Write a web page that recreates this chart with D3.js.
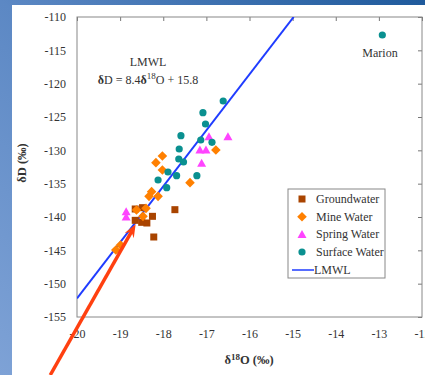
<!DOCTYPE html>
<html><head><meta charset="utf-8">
<script src="https://cdn.jsdelivr.net/npm/d3@7/dist/d3.min.js"></script>
<style>body{margin:0;padding:0;overflow:hidden}svg{display:block}</style>
</head><body>
<script>
// ---- data ----
const groundwater = [[-18.65,-138.8],[-18.48,-138.6],[-18.25,-139.9],[-18.5,-140.8],[-18.38,-140.9],[-18.65,-140.5],[-18.22,-143.0],[-17.73,-138.9]];
const mineWater = [[-16.78,-129.95],[-18.02,-130.85],[-18.17,-131.85],[-18.02,-132.95],[-17.38,-134.85],[-18.27,-136.2],[-18.12,-136.9],[-18.33,-136.9],[-18.62,-138.95],[-18.4,-138.7],[-18.47,-139.9],[-18.99,-144.2],[-19.1,-144.95]];
const springWater = [[-16.94,-127.95],[-16.5,-127.95],[-17.15,-129.95],[-17.01,-129.95],[-17.11,-131.95],[-18.86,-139.2],[-18.86,-140.0]];
const surfaceWater = [[-16.61,-122.6],[-17.08,-124.35],[-17.02,-126.05],[-17.59,-127.8],[-17.13,-128.45],[-16.87,-128.8],[-17.63,-129.8],[-17.64,-131.3],[-17.53,-131.75],[-17.89,-133.25],[-17.69,-133.8],[-17.22,-133.8],[-18.12,-134.45],[-17.92,-135.6],[-12.92,-112.7]];
const lmwl = {slope: 8.4, intercept: 15.8};
const xTicks = [-20,-19,-18,-17,-16,-15,-14,-13,-12];
const yTicks = [-155,-150,-145,-140,-135,-130,-125,-120,-115,-110];
const arrow = [[-20.62,-163.7],[-18.64,-141.1]];
const seriesNames = ["Groundwater","Mine Water","Spring Water","Surface Water","LMWL"];

(function(){
const W=425,H=375;
const svg=d3.select("body").append("svg").attr("width",W).attr("height",H);
const defs=svg.append("defs");
const g1=defs.append("linearGradient").attr("id","bg").attr("x1","0").attr("y1","1").attr("x2","1").attr("y2","0");
g1.append("stop").attr("offset","0").attr("stop-color","#7ea2d6");
g1.append("stop").attr("offset","0.5").attr("stop-color","#5c88c4");
g1.append("stop").attr("offset","1").attr("stop-color","#1f5a9c");
svg.append("rect").attr("width",W).attr("height",H).attr("fill","url(#bg)");
svg.append("rect").attr("x",12).attr("y",5).attr("width",W-12).attr("height",H-5).attr("fill","#fff");

const x=d3.scaleLinear().domain([-20,-12]).range([77,422]);
const y=d3.scaleLinear().domain([-155,-110]).range([317,17]);
const serif="'Liberation Serif','Times New Roman',serif";

defs.append("clipPath").attr("id","clip").append("rect").attr("x",77).attr("y",17).attr("width",345).attr("height",300);

// axes
const axB=svg.append("g").attr("transform","translate(0,317)").call(d3.axisBottom(x).tickValues(xTicks).tickSize(0).tickPadding(12).tickFormat(d=>d));
const axL=svg.append("g").attr("transform","translate(77,0)").call(d3.axisLeft(y).tickValues(yTicks).tickSize(0).tickPadding(11).tickFormat(d=>d));
const axT=svg.append("g").attr("transform","translate(0,17)").call(d3.axisBottom(x).tickValues(xTicks).tickSize(4).tickFormat(""));
const axR=svg.append("g").attr("transform","translate(422,0)").call(d3.axisLeft(y).tickValues(yTicks).tickSize(4).tickFormat(""));
[axB,axL,axT,axR].forEach(a=>{a.select(".domain").remove();a.selectAll("line").attr("stroke","#777");a.selectAll("text").attr("font-family",serif).attr("font-size",12).attr("fill","#333");});
svg.append("rect").attr("x",77).attr("y",17).attr("width",345).attr("height",300).attr("fill","none").attr("stroke","#888").attr("stroke-width",1);

// LMWL line
const lx=[-20,(-110-lmwl.intercept)/lmwl.slope];
svg.append("line").attr("clip-path","url(#clip)")
 .attr("x1",x(lx[0])).attr("y1",y(lmwl.slope*lx[0]+lmwl.intercept))
 .attr("x2",x(lx[1])).attr("y2",y(lmwl.slope*lx[1]+lmwl.intercept))
 .attr("stroke","#1f3cff").attr("stroke-width",2);

// markers
const cols={g:"#a94400",m:"#ff8000",s:"#ff44ff",w:"#0a9090"};
function sq(gs,cx,cy,c){gs.append("rect").attr("x",cx-3.5).attr("y",cy-3.5).attr("width",7).attr("height",7).attr("fill",c);}
function di(gs,cx,cy,c){gs.append("path").attr("d",`M${cx},${cy-4.8}L${cx+4.8},${cy}L${cx},${cy+4.8}L${cx-4.8},${cy}Z`).attr("fill",c);}
function tr(gs,cx,cy,c){gs.append("path").attr("d",`M${cx},${cy-4.5}L${cx+4.5},${cy+3.5}L${cx-4.5},${cy+3.5}Z`).attr("fill",c);}
function ci(gs,cx,cy,c){gs.append("circle").attr("cx",cx).attr("cy",cy).attr("r",3.6).attr("fill",c);}
const pts=svg.append("g");
groundwater.forEach(d=>sq(pts,x(d[0]),y(d[1]),cols.g));
mineWater.forEach(d=>di(pts,x(d[0]),y(d[1]),cols.m));
springWater.forEach(d=>tr(pts,x(d[0]),y(d[1]),cols.s));
surfaceWater.forEach(d=>ci(pts,x(d[0]),y(d[1]),cols.w));

// arrow
const ax1=x(arrow[0][0]),ay1=y(arrow[0][1]),ax2=x(arrow[1][0]),ay2=y(arrow[1][1]);
const ang=Math.atan2(ay2-ay1,ax2-ax1);
const hl=14,hw=0.38;
svg.append("line").attr("x1",ax1).attr("y1",ay1).attr("x2",ax2-Math.cos(ang)*8).attr("y2",ay2-Math.sin(ang)*8).attr("stroke","#ff4010").attr("stroke-width",3.5);
svg.append("path").attr("d",`M${ax2},${ay2}L${ax2-hl*Math.cos(ang-hw)},${ay2-hl*Math.sin(ang-hw)}L${ax2-hl*0.6*Math.cos(ang)},${ay2-hl*0.6*Math.sin(ang)}L${ax2-hl*Math.cos(ang+hw)},${ay2-hl*Math.sin(ang+hw)}Z`).attr("fill","#ff4010");

// annotations
svg.append("text").attr("x",380).attr("y",57).attr("text-anchor","middle").attr("font-family",serif).attr("font-size",12).attr("fill","#333").text("Marion");
svg.append("text").attr("x",148).attr("y",66).attr("text-anchor","middle").attr("font-family",serif).attr("font-size",12).attr("fill","#333").text("LMWL");
const eq=svg.append("text").attr("x",148).attr("y",84).attr("text-anchor","middle").attr("font-family",serif).attr("font-size",12).attr("fill","#333");
eq.append("tspan").attr("font-weight","bold").text("δ");
eq.append("tspan").text("D = 8.4");
eq.append("tspan").attr("font-weight","bold").text("δ");
eq.append("tspan").attr("font-size",9).attr("dy",-5).text("18");
eq.append("tspan").attr("dy",5).text("O + 15.8");

// axis titles
const yt=svg.append("text").attr("transform","translate(26,163) rotate(-90)").attr("text-anchor","middle").attr("font-family",serif).attr("font-size",12.5).attr("font-weight","bold").attr("fill","#333");
yt.append("tspan").text("δD (‰)");
const xt=svg.append("text").attr("x",249).attr("y",364).attr("text-anchor","middle").attr("font-family",serif).attr("font-size",12.5).attr("font-weight","bold").attr("fill","#333");
xt.append("tspan").text("δ");
xt.append("tspan").attr("font-size",9).attr("dy",-4).text("18");
xt.append("tspan").attr("dy",4).text("O (‰)");

// legend
const lg=svg.append("g");
lg.append("rect").attr("x",288).attr("y",189).attr("width",97).attr("height",89).attr("fill","#fff").attr("stroke","#888");
const ly=[199,216.7,234.4,252,270];
const fns=[sq,di,tr,ci];
const cl=[cols.g,cols.m,cols.s,cols.w];
seriesNames.forEach((n,i)=>{
  if(i<4) fns[i](lg,302,ly[i],cl[i]);
  else lg.append("line").attr("x1",292).attr("x2",314).attr("y1",ly[i]).attr("y2",ly[i]).attr("stroke","#1f3cff").attr("stroke-width",1.5);
  lg.append("text").attr("x",i<4?316:314).attr("y",ly[i]+4).attr("font-family",serif).attr("font-size",12).attr("fill","#333").text(n);
});
})();
</script>
</body></html>
